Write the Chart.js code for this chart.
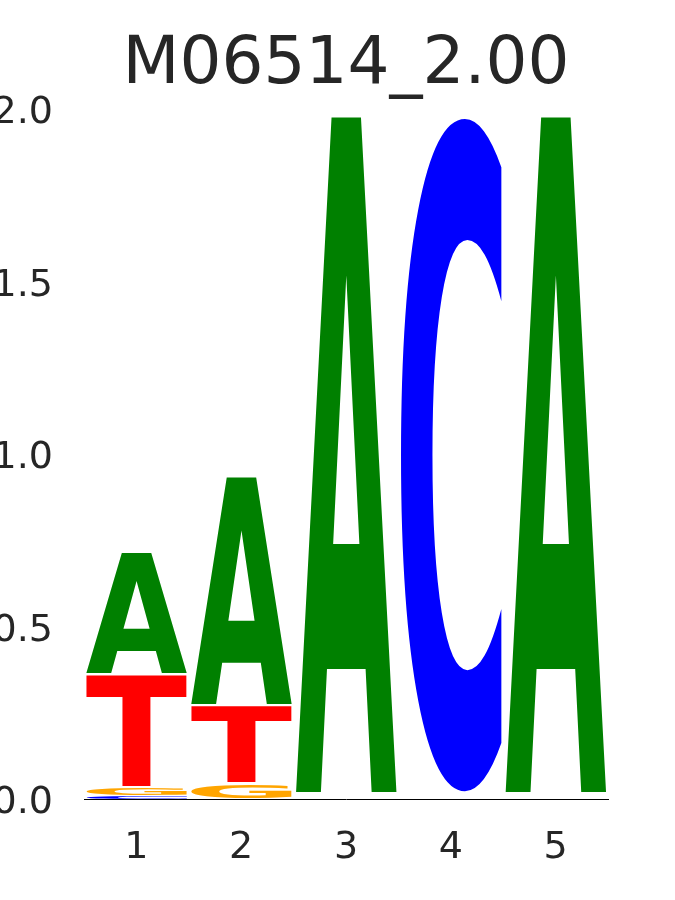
<!DOCTYPE html>
<html>
<head>
<meta charset="utf-8">
<script src="https://cdn.jsdelivr.net/npm/chart.js@4"></script>
<style>
  body { margin: 0; background: #fff; }
</style>
</head>
<body>
<canvas id="logo" width="675" height="900"></canvas>
<script>
const positions = ['1', '2', '3', '4', '5'];
// letter heights (bits) per position
const heightA = [0.355, 0.667, 1.968, 0.006, 1.968];
const heightC = [0.011, 0, 0.006, 1.968, 0.006];
const heightG = [0.024, 0.046, 0.006, 0.006, 0.006];
const heightT = [0.33, 0.228, 0.007, 0.007, 0.007];
const yTicks = [0, 0.5, 1.0, 1.5, 2.0];

const colors = { A: '#008000', C: '#0000ff', G: '#ffa500', T: '#ff0000' };
const minDrawn = 0.01; // letters thinner than this are left out

// sort letters at each position, smallest at the bottom of the stack
const columns = positions.map((p, i) => [
    { ch: 'A', v: heightA[i] },
    { ch: 'C', v: heightC[i] },
    { ch: 'G', v: heightG[i] },
    { ch: 'T', v: heightT[i] }
].sort((a, b) => a.v - b.v));

const layers = [0, 1, 2, 3].map(k => ({
    label: 'layer' + k,
    data: columns.map(c => c[k].v),
    letters: columns.map(c => c[k].ch),
    backgroundColor: 'transparent',
    borderWidth: 0,
    barPercentage: 0.965,
    categoryPercentage: 1.0
}));

function drawLetter(ctx, ch, color, x, y, w, h) {
    ctx.save();
    ctx.font = 'bold 200px "DejaVu Sans"';
    const m = ctx.measureText(ch);
    const gw = m.actualBoundingBoxLeft + m.actualBoundingBoxRight;
    const gh = m.actualBoundingBoxAscent + m.actualBoundingBoxDescent;
    ctx.translate(x, y);
    ctx.scale(w / gw, h / gh);
    ctx.fillStyle = color;
    ctx.fillText(ch, m.actualBoundingBoxLeft, m.actualBoundingBoxAscent);
    ctx.restore();
}

const letterPlugin = {
    id: 'letters',
    afterDatasetsDraw(chart) {
        const ctx = chart.ctx;
        chart.data.datasets.forEach((ds, i) => {
            const meta = chart.getDatasetMeta(i);
            meta.data.forEach((bar, j) => {
                if (ds.data[j] < minDrawn) return;
                const p = bar.getProps(['x', 'y', 'base', 'width'], true);
                const full = p.base - p.y;
                const pad = Math.min(1.5, full * 0.12);
                const h = full - 2 * pad;
                if (h <= 0) return;
                const ch = ds.letters[j];
                drawLetter(ctx, ch, colors[ch], p.x - p.width / 2, p.y + pad, p.width, h);
            });
        });
    }
};

const ctx = document.getElementById('logo').getContext('2d');
const logo = new Chart(ctx, {
    type: 'bar',
    data: {
        labels: positions,
        datasets: layers
    },
    options: {
        responsive: false,
        animation: false,
        layout: { padding: { top: 26, right: 67, bottom: 4, left: 0 } },
        plugins: {
            legend: { display: false },
            tooltip: { enabled: false },
            title: {
                display: true,
                text: 'M06514_2.00',
                fullSize: false,
                color: '#262626',
                font: { family: '"DejaVu Sans"', size: 66, weight: 'normal' },
                padding: { top: 0, bottom: 8 }
            }
        },
        scales: {
            x: {
                stacked: true,
                grid: { display: false },
                border: { display: true, color: '#000000', width: 1 },
                ticks: {
                    color: '#262626',
                    padding: 17,
                    font: { family: '"DejaVu Sans"', size: 38 }
                }
            },
            y: {
                stacked: true,
                min: 0,
                max: 2,
                afterFit(scale) { scale.width = 84; },
                afterBuildTicks(scale) { scale.ticks = yTicks.map(v => ({ value: v })); },
                grid: { display: false, drawTicks: false },
                border: { display: false },
                ticks: {
                    color: '#262626',
                    padding: 31,
                    labelOffset: 3,
                    font: { family: '"DejaVu Sans"', size: 38 },
                    callback: v => v.toFixed(1)
                }
            }
        }
    },
    plugins: [letterPlugin]
});

// pin the plot area to where the reference has it (2.0 at y=110.5, 0.0 at y=800)
const area = logo.chartArea;
logo.options.plugins.title.padding.bottom += 110.5 - area.top;
logo.options.layout.padding.bottom += area.bottom - 800;
logo.update();
</script>
</body>
</html>
